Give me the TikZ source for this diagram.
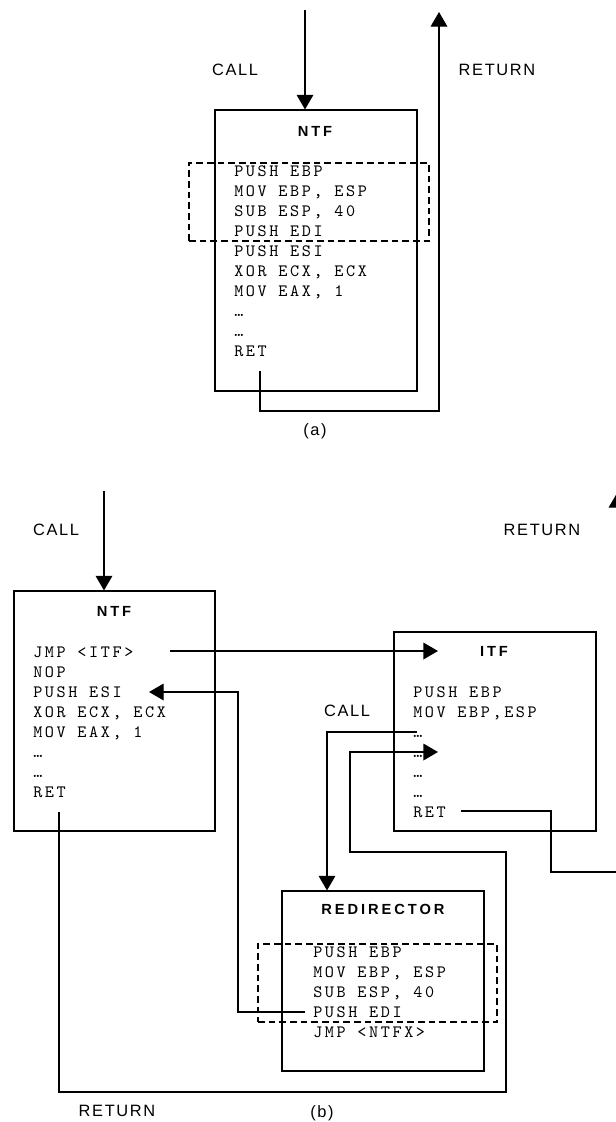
\documentclass[tikz,border=0pt]{standalone}
\usepackage{fontspec}
\newfontfamily\labelfont[LetterSpace=10]{Liberation Sans}
\newfontfamily\headfont[LetterSpace=20]{Liberation Sans}
\newfontfamily\codefont[LetterSpace=15]{lmmono10-regular.otf}
\usetikzlibrary{arrows.meta,fit}
\tikzset{
  fnbox/.style={
    rectangle,
    draw=black,
    line width=0.8pt,
    inner sep=0pt
  },
  hookbox/.style={
    rectangle,
    draw=black,
    dash pattern=on 5pt off 3pt,
    line width=1.4pt,
    inner sep=0pt
  },
  asm/.style={
    anchor=base west,
    inner sep=0pt,
    font=\codefont\fontsize{13}{15}\selectfont
  },
  fntitle/.style={
    inner sep=0pt,
    font=\headfont\bfseries\fontsize{11}{13}\selectfont
  },
  lbl/.style={
    inner sep=0pt,
    font=\labelfont\fontsize{12.3}{14}\selectfont
  },
  flow/.style={
    line width=1pt,
    -{Triangle[length=11pt, width=12.5pt]}
  }
}

\begin{document}
\begin{tikzpicture}[x=0.75pt, y=-0.75pt]
  % same frame as the reference page
  \useasboundingbox (0,0) rectangle (616,1122);
  \clip (0,0) rectangle (616,1122);

  % (a) original function
  \node[fnbox, fit={(215,110) (417,391)}] (ntfa) {};
  \node[fntitle] (ntfa-t) at (315,131) {NTF};
  \foreach \ln [count=\i] in {{PUSH EBP},{MOV EBP, ESP},{SUB ESP, 40},{PUSH EDI},{PUSH ESI},{XOR ECX, ECX},{MOV EAX, 1},…,…,RET}
    \node[asm] (a\i) at (234,{156+20*\i}) {\ln};
  \node[hookbox, fit={(189,163) (429,241)}] (hooka) {};

  \node[lbl] (calla) at (235,70) {CALL};
  \node[lbl] (reta) at (497,70) {RETURN};
  \node[lbl] (capa) at (315,431) {(a)};

  \coordinate (acallin) at (305,10);
  \coordinate (aretout) at (260,371);
  \coordinate (aretup) at (439,12);
  \draw[flow] (acallin) -- (acallin |- ntfa.north);
  \draw[flow] (aretout) --++(0,40) -| (aretup);

  % (b) hooked function
  \node[fnbox, fit={(14,591) (215,831)}] (ntfb) {};
  \node[fntitle] (ntfb-t) at (114,611) {NTF};
  \foreach \ln [count=\i] in {{JMP <ITF>},NOP,{PUSH ESI},{XOR ECX, ECX},{MOV EAX, 1},…,…,RET}
    \node[asm] (b\i) at (33,{637+20*\i}) {\ln};

  % interceptor
  \node[fnbox, fit={(394,632) (596,831)}] (itf) {};
  \node[fntitle] (itf-t) at (494,651) {ITF};
  \foreach \ln [count=\i] in {{PUSH EBP},{MOV EBP,ESP},…,…,…,…,RET}
    \node[asm] (i\i) at (413,{677+20*\i}) {\ln};

  % redirector
  \node[fnbox, fit={(282,891) (484,1071)}] (redir) {};
  \node[fntitle] (redir-t) at (383,909) {REDIRECTOR};
  \foreach \ln [count=\i] in {{PUSH EBP},{MOV EBP, ESP},{SUB ESP, 40},{PUSH EDI},{JMP <NTFX>}}
    \node[asm] (r\i) at (313,{937+20*\i}) {\ln};
  \node[hookbox, fit={(258,944) (497,1022)}] (hookb) {};

  \node[lbl] (callb) at (56,530) {CALL};
  \node[lbl] (retb) at (542,530) {RETURN};
  \node[lbl] (callc) at (347,711) {CALL};
  \node[lbl] (retc) at (117,1111) {RETURN};
  \node[lbl] (capb) at (322,1113) {(b)};

  \coordinate (bcallin) at (104,491);
  \coordinate (jmpout) at (170,651);
  \coordinate (itfin) at (438,651);
  \coordinate (redback) at (305,1012);
  \coordinate (esiin) at (149,692);
  \coordinate (bretout) at (59,812);
  \coordinate (itfback) at (438,752);
  \coordinate (itfcall) at (417,732);
  \coordinate (itfretout) at (461,811);
  \coordinate (bretup) at (617,493);

  \draw[flow] (bcallin) -- (bcallin |- ntfb.north);
  \draw[flow] (jmpout) -- (itfin);
  \draw[flow] (redback) --++(-67,0) |- (esiin);
  \draw[flow] (bretout) --++(0,280) --++(447,0) --++(0,-240) --++(-156,0) |- (itfback);
  \draw[flow] (itfcall) --++(-90,0) coordinate (itfcalldn) -- (itfcalldn |- redir.north);
  \draw[flow] (itfretout) --++(90,0) --++(0,61) -| (bretup);
\end{tikzpicture}
\end{document}
